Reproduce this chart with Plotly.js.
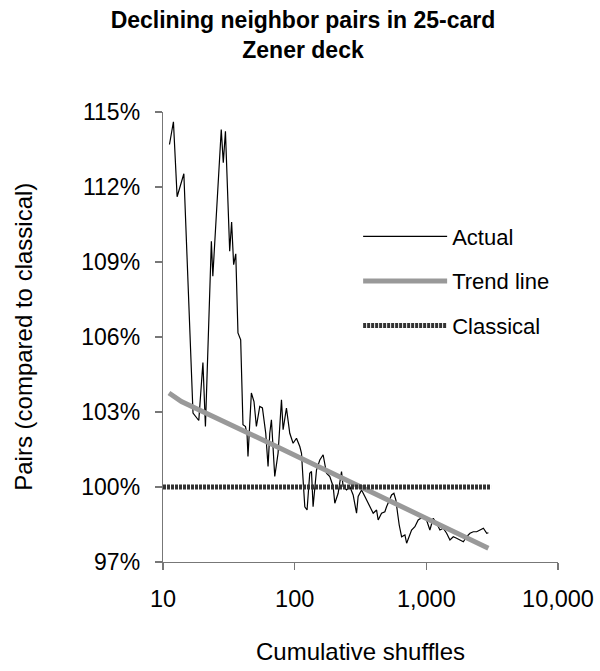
<!DOCTYPE html>
<html>
<head>
<meta charset="utf-8">
<script src="https://cdn.plot.ly/plotly-3.0.1.min.js"></script>
<style>html,body{margin:0;padding:0;background:#fff;}#chart{width:600px;height:671px;}</style>
</head>
<body>
<div id="chart"></div>
<script>
// Actual series: cumulative shuffles vs pairs (% of classical)
const actualX = [11.2, 12.0, 12.8, 14.4, 16.9, 18.7, 20.1, 21.0, 23.3, 23.9, 27.7, 28.7, 29.8, 32.1, 33.2, 34.4, 35.7, 37.1, 38.9, 40.5, 42.3, 43.5, 44.2, 46.9, 49.1, 51.2, 54.3, 56.9, 60.3, 62.8,
  64.7, 66.6, 70.6, 74.8, 79.4, 81.7, 86.6, 91.8, 97.3, 103.2, 109.4, 112.7, 115.9, 119.4, 124.2, 130.2, 134.2, 138.0, 146.5, 155.2, 164.5, 174.5, 184.9, 196.0, 201.8, 213.9, 226.9, 233.4, 247.6, 262.4, 278.1, 295.1, 303.5, 322.2, 341.4, 361.7, 372.5, 394.8, 418.9, 430.7, 457.0, 484.2, 498.8, 512.9, 544.6, 567.1, 587.1, 604.9, 622.3, 649.1, 687.6, 708.5, 741.3, 772.7, 818.7, 867.2, 946.4, 1004, 1064, 1128, 1197, 1268, 1345, 1426, 1511, 1602, 1698, 1801, 1909, 2024, 2145, 2274, 2413, 2559, 2712, 2876, 2960];
const actualY = [113.70, 114.61, 111.61, 112.53, 102.96, 102.66, 104.98, 102.42, 109.83, 108.43, 114.30, 112.97, 114.23, 109.43, 110.60, 108.89, 109.33, 106.16, 105.89, 102.49, 102.42, 102.09, 101.22, 103.76, 103.42, 102.42, 103.22, 103.16, 102.15, 100.82,
  102.15, 102.69, 100.42, 101.35, 103.49, 102.29, 103.16, 102.15, 101.75, 101.95, 101.62, 101.35, 100.28, 99.21, 99.08, 100.55, 100.62, 99.21, 100.68, 101.08, 101.29, 100.55, 100.42, 100.02, 99.35, 99.75, 100.62, 100.02, 99.88, 100.02, 99.68, 98.95, 99.62, 99.88, 99.62, 99.35, 99.21, 98.95, 99.08, 98.68, 98.95, 99.01, 99.21, 99.35, 99.68, 99.75, 99.48, 98.95, 98.48, 98.01, 98.08, 97.75, 98.01, 98.28, 98.41, 98.68, 98.81, 98.68, 98.28, 98.75, 98.55, 98.28, 98.35, 98.15, 97.88, 98.01, 97.95, 97.88, 97.81, 98.01, 98.15, 98.21, 98.21, 98.28, 98.35, 98.15, 98.17];

// Trend line (logarithmic fit as drawn)
const trendX = [11.1, 13.8, 64.7, 262, 2960];
const trendY = [103.76, 103.42, 101.75, 100.22, 97.55];

// Classical expectation
const classicalX = [10, 3100];
const classicalY = [100, 100];

// Axis ticks
const xTickVals = [10, 100, 1000, 10000];
const xTickText = ['10', '100', '1,000', '10,000'];
const yTickVals = [97, 100, 103, 106, 109, 112, 115];
const yTickText = ['97%', '100%', '103%', '106%', '109%', '112%', '115%'];

const FONT = 'Liberation Sans, Arial, Helvetica, sans-serif';

const traces = [
  {x: actualX, y: actualY, name: 'Actual', mode: 'lines', type: 'scatter',
   line: {color: '#000000', width: 1.2}, legendgroup: 'a'},
  {x: trendX, y: trendY, name: 'Trend line', mode: 'lines', type: 'scatter',
   line: {color: '#999999', width: 5}, legendgroup: 'b'},
  {x: classicalX, y: classicalY, name: 'Classical', mode: 'lines', type: 'scatter',
   line: {color: '#333333', width: 5, dash: '3px,1px'}, legendgroup: 'c'}
];

const layout = {
  width: 600, height: 671,
  paper_bgcolor: '#ffffff', plot_bgcolor: '#ffffff',
  font: {family: FONT, size: 22, color: '#000000'},
  margin: {l: 163, r: 42, t: 112, b: 109, pad: 0},
  title: {
    text: '<b>Declining neighbor pairs in 25-card<br>Zener deck</b>',
    font: {family: FONT, size: 23, color: '#000000'},
    xref: 'container', x: 0.505, xanchor: 'center',
    yref: 'container', y: 0.958, yanchor: 'middle'
  },
  xaxis: {
    type: 'log', range: [1, 4],
    tickmode: 'array', tickvals: xTickVals, ticktext: xTickText,
    showgrid: false, zeroline: false, showline: true, linecolor: '#777777', linewidth: 1.3,
    ticks: 'outside', ticklen: 7, tickcolor: '#777777', tickwidth: 1.3,
    ticklabelstandoff: 8,
    tickfont: {family: FONT, size: 23.5, color: '#000000'},
    title: {text: 'Cumulative shuffles', font: {family: FONT, size: 24, color: '#000000'}, standoff: 32},
    automargin: false
  },
  yaxis: {
    range: [97, 115],
    tickmode: 'array', tickvals: yTickVals, ticktext: yTickText,
    showgrid: false, zeroline: false, showline: true, linecolor: '#777777', linewidth: 1.3,
    ticks: 'outside', ticklen: 7, tickcolor: '#777777', tickwidth: 1.3,
    ticklabelstandoff: 10,
    tickfont: {family: FONT, size: 23, color: '#000000'},
    automargin: false
  },
  annotations: [{
    text: 'Pairs (compared to classical)', textangle: -90,
    xref: 'paper', yref: 'paper', x: -0.355, y: 0.5,
    xanchor: 'center', yanchor: 'middle', showarrow: false,
    font: {family: FONT, size: 24, color: '#000000'}
  }],
  showlegend: true,
  legend: {
    x: 0.494, xanchor: 'left', y: 0.77, yanchor: 'top',
    xref: 'paper', yref: 'paper',
    bgcolor: 'rgba(0,0,0,0)', borderwidth: 0,
    font: {family: FONT, size: 22, color: '#000000'},
    itemwidth: 84, tracegroupgap: 13, traceorder: 'grouped'
  }
};

Plotly.newPlot('chart', traces, layout, {displayModeBar: false, staticPlot: true});
</script>
</body>
</html>
